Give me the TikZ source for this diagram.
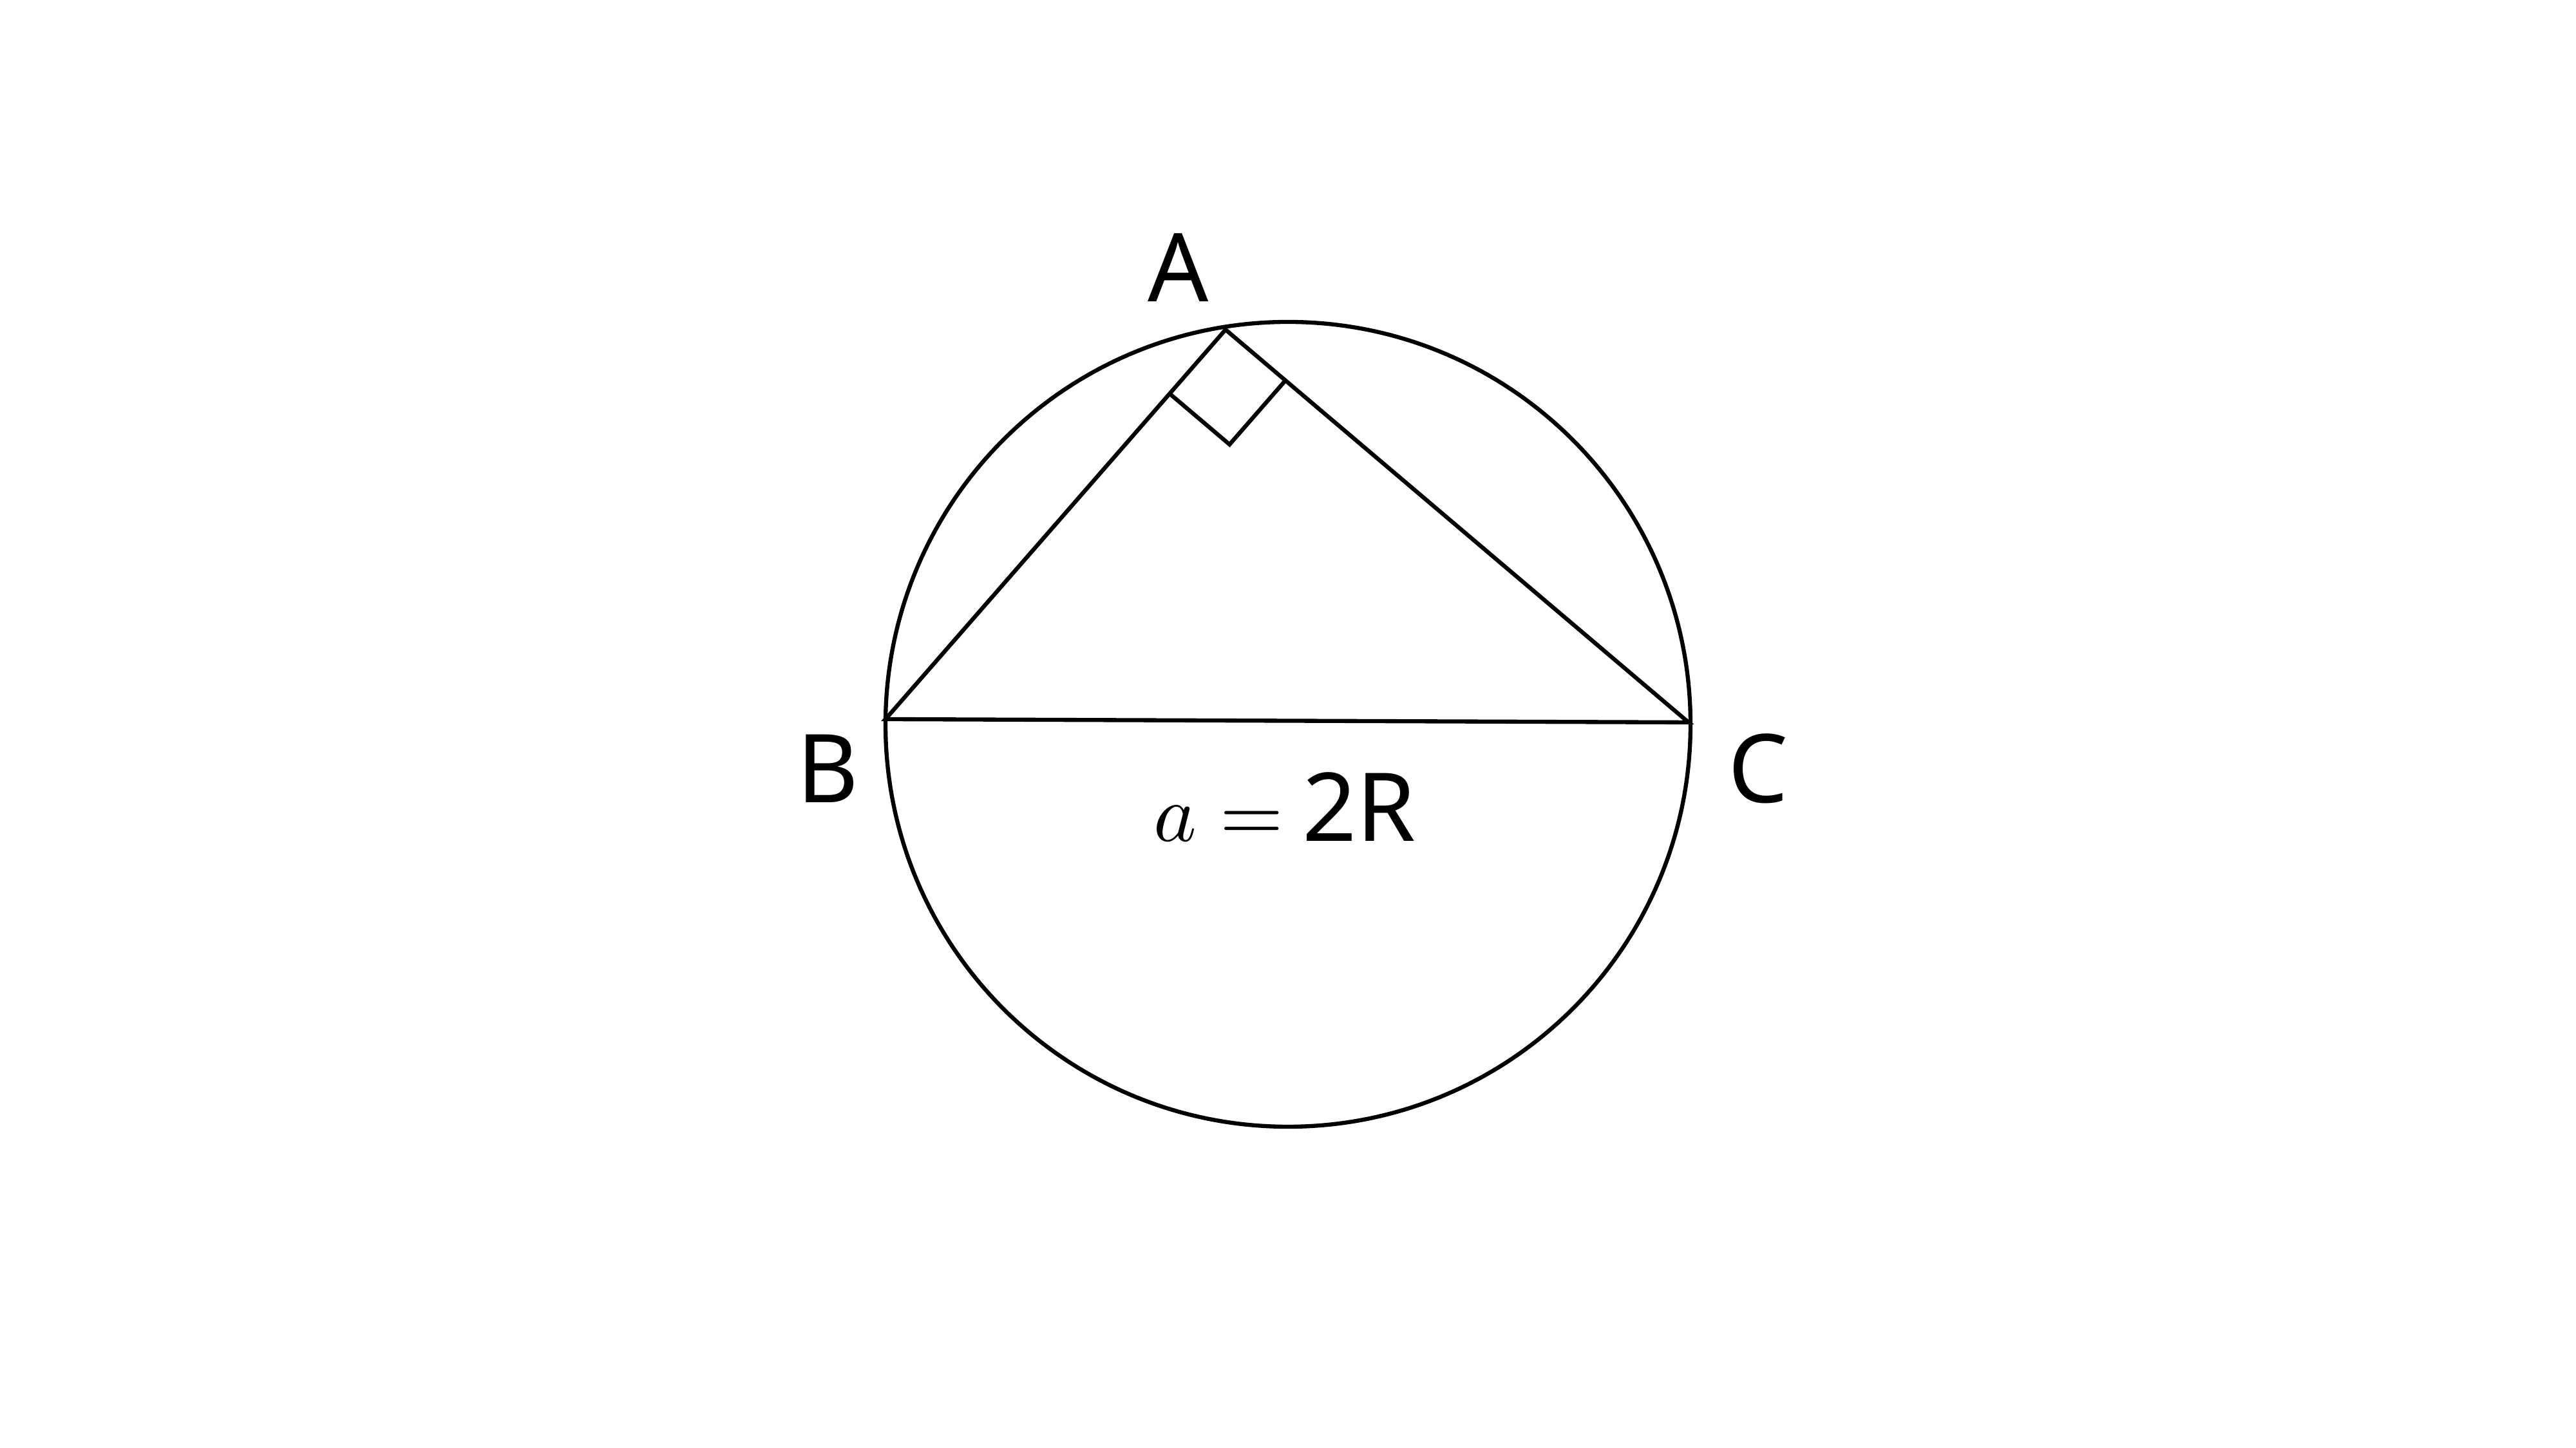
\documentclass[tikz,border=0pt]{standalone}
\usepackage{fontspec}
\usepackage{unicode-math}
\setmainfont{Noto Sans}
\setmathfont{Latin Modern Math}
\usetikzlibrary{calc}
\begin{document}
\begin{tikzpicture}[
  line width=1.8pt,
  lbl/.style={anchor=base, inner sep=0pt, font=\fontsize{42}{50}\selectfont}
]
\useasboundingbox (0,0) rectangle (40,22.49);
\coordinate (O) at (20,11.24);
\coordinate (A) at (19.03,17.37);
\coordinate (B) at (13.75,11.32);
\coordinate (C) at (26.22,11.27);
\draw (O) circle (6.25);
\draw (A) -- (B) -- (C) -- cycle;
\coordinate (P1) at ($(A)!1.32cm!(B)$);
\coordinate (P2) at ($(A)!1.22cm!(C)$);
\draw (P1) -- ($(P1)+(P2)-(A)$) -- (P2);
\node[lbl] (la) at (18.30,17.80) {A};
\node[lbl] (lb) at (12.85,10.02) {B};
\node[lbl] (lc) at (27.30,10.02) {C};
\node[lbl, anchor=base west] (eq) at (17.88,9.42)
  {{\fontsize{36}{40}\selectfont$a$\kern0.36cm$=$}\kern0.30cm 2R};
\end{tikzpicture}
\end{document}
